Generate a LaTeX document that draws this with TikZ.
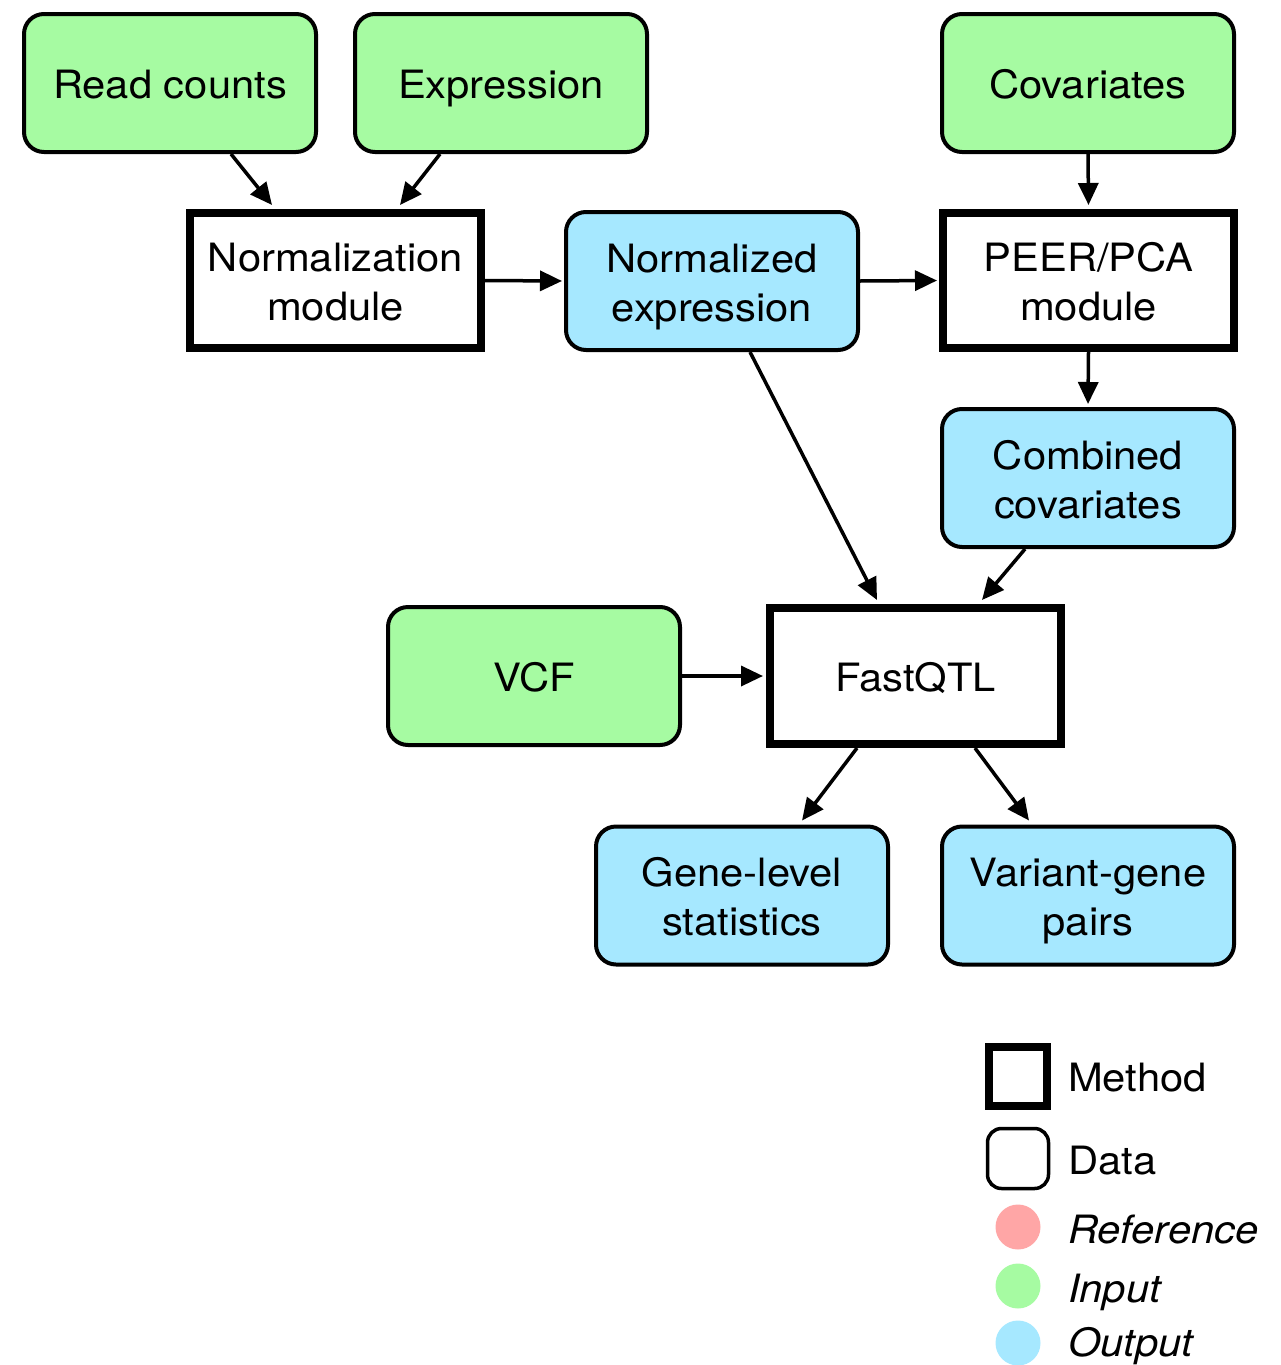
\documentclass[tikz,border=0pt]{standalone}
\usepackage{fontspec}
\setmainfont[FakeStretch=1.07]{TeX Gyre Heros}
\usetikzlibrary{arrows.meta,calc}
\definecolor{ingreen}{HTML}{A6FBA2}
\definecolor{outblue}{HTML}{A6E8FF}
\definecolor{refpink}{HTML}{FFA6A6}
\newcommand\boxfont{\fontsize{39}{49}\selectfont}
\newcommand\sst{\rule[-9pt]{0pt}{49pt}}
\tikzset{
  datab/.style={draw, line width=4pt, rounded corners=20pt, minimum width=292pt, minimum height=138pt, inner sep=0pt, align=center, font=\boxfont},
  meth/.style={draw, line width=8pt, fill=white, minimum width=291pt, minimum height=135pt, inner sep=0pt, align=center, font=\boxfont},
  conn/.style={line width=3.5pt, -{Triangle[length=22pt,width=20pt]}},
  legtext/.style={anchor=base west, inner sep=0pt, font=\boxfont}
}
\begin{document}
\begin{tikzpicture}[x=1pt,y=-1pt]
\useasboundingbox (0,0) rectangle (1280,1365);
% data nodes
\node[datab,fill=ingreen] (rc) at (170,83) {\sst Read counts};
\node[datab,fill=ingreen] (expr) at (501,83) {\sst Expression};
\node[datab,fill=ingreen] (cov) at (1088,83) {\sst Covariates};
\node[meth] (norm) at (335.5,280.5) {\sst Normalization\\\sst module};
\node[datab,fill=outblue] (nexp) at (712,281) {\sst Normalized\\\sst expression};
\node[meth] (peer) at (1088.5,280.5) {\sst PEER/PCA\\\sst module};
\node[datab,fill=outblue] (comb) at (1088,478) {\sst Combined\\\sst covariates};
\node[datab,fill=ingreen] (vcf) at (534,676) {\sst VCF};
\node[meth,minimum height=136pt] (fqtl) at (915.5,676) {\sst FastQTL};
\node[datab,fill=outblue] (gene) at (742,895.5) {\sst Gene-level\\\sst statistics};
\node[datab,fill=outblue] (var) at (1088,895.5) {\sst Variant-gene\\\sst pairs};
% connectors
\draw[conn] ([xshift=61pt]rc.south) -- ([xshift=-63.5pt,yshift=4pt]norm.north);
\draw[conn] ([xshift=-61pt]expr.south) -- ([xshift=64.5pt,yshift=4pt]norm.north);
\draw[conn] (norm.east) -- ([xshift=-2pt]nexp.west);
\draw[conn] (nexp.east) -- ([xshift=-2pt]peer.west);
\draw[conn] (cov.south) -- ([yshift=4pt]peer.north);
\draw[conn] (peer.south) -- ([yshift=3pt]comb.north);
\draw[conn] ([xshift=38pt]nexp.south) -- ([xshift=-38.5pt,yshift=4pt]fqtl.north);
\draw[conn] ([xshift=-63pt]comb.south) -- ([xshift=66.5pt,yshift=4pt]fqtl.north);
\draw[conn] (vcf.east) -- ([xshift=-3pt]fqtl.west);
\draw[conn] ([xshift=-58.5pt]fqtl.south) -- ([xshift=60pt,yshift=4pt]gene.north);
\draw[conn] ([xshift=59.5pt]fqtl.south) -- ([xshift=-59pt,yshift=4pt]var.north);
% legend
\node[draw, line width=8pt, minimum width=58pt, minimum height=59pt, inner sep=0pt] (lm) at (1018,1076.5) {};
\node[draw, line width=3.5pt, rounded corners=14pt, minimum width=61pt, minimum height=60pt, inner sep=0pt] (ld) at (1018,1158.5) {};
\node[circle, fill=refpink, minimum size=45pt, inner sep=0pt] (lr) at (1018,1227) {};
\node[circle, fill=ingreen, minimum size=45pt, inner sep=0pt] (li) at (1018,1286) {};
\node[circle, fill=outblue, minimum size=45pt, inner sep=0pt] (lo) at (1018,1343) {};
\node[legtext] (tm) at (1068,1091) {Method};
\node[legtext] (td) at (1068,1174) {Data};
\node[legtext] (tr) at (1068,1243) {\itshape Reference};
\node[legtext] (ti) at (1068,1302) {\itshape Input};
\node[legtext] (to) at (1068,1356) {\itshape Output};
\end{tikzpicture}
\end{document}
